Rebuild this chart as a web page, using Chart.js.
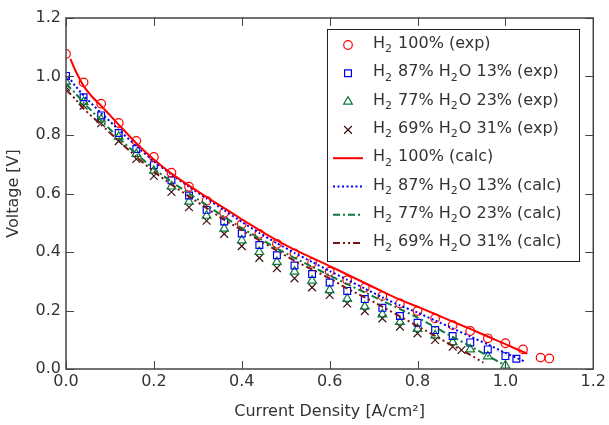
<!DOCTYPE html>
<html>
<head>
<meta charset="utf-8">
<script src="https://cdn.jsdelivr.net/npm/chart.js@4"></script>
<style>
  html, body { margin: 0; padding: 0; background: #fff; }
  #wrap { width: 609px; height: 425px; }
</style>
</head>
<body>
<div id="wrap"><canvas id="mainChart" width="609" height="425"></canvas></div>
<script>
// experimental points
const h2_100_x = [0, 0.04, 0.08, 0.12, 0.16, 0.20, 0.24, 0.28, 0.32, 0.36, 0.40, 0.44, 0.48, 0.52, 0.56, 0.60, 0.64, 0.68, 0.72, 0.76, 0.80, 0.84, 0.88, 0.92, 0.96, 1.00, 1.04, 1.08, 1.10];
const h2_100_v = [1.077, 0.980, 0.907, 0.841, 0.780, 0.725, 0.671, 0.623, 0.575, 0.534, 0.496, 0.462, 0.428, 0.395, 0.363, 0.333, 0.304, 0.278, 0.250, 0.224, 0.198, 0.173, 0.150, 0.130, 0.105, 0.088, 0.067, 0.039, 0.036];
const h2_87_x = [0, 0.04, 0.08, 0.12, 0.16, 0.20, 0.24, 0.28, 0.32, 0.36, 0.40, 0.44, 0.48, 0.52, 0.56, 0.60, 0.64, 0.68, 0.72, 0.76, 0.80, 0.84, 0.88, 0.92, 0.96, 1.00, 1.025];
const h2_87_v = [1.002, 0.929, 0.867, 0.807, 0.752, 0.697, 0.645, 0.593, 0.544, 0.504, 0.463, 0.424, 0.389, 0.354, 0.325, 0.296, 0.267, 0.239, 0.209, 0.181, 0.158, 0.133, 0.113, 0.091, 0.067, 0.044, 0.035];
const h2_77_x = [0, 0.04, 0.08, 0.12, 0.16, 0.20, 0.24, 0.28, 0.32, 0.36, 0.40, 0.44, 0.48, 0.52, 0.56, 0.60, 0.64, 0.68, 0.72, 0.76, 0.80, 0.84, 0.88, 0.92, 0.96, 1.00];
const h2_77_v = [0.982, 0.913, 0.853, 0.794, 0.735, 0.678, 0.624, 0.572, 0.524, 0.480, 0.440, 0.400, 0.366, 0.333, 0.302, 0.270, 0.240, 0.213, 0.187, 0.161, 0.137, 0.115, 0.092, 0.067, 0.043, 0.012];
const h2_69_x = [0, 0.04, 0.08, 0.12, 0.16, 0.20, 0.24, 0.28, 0.32, 0.36, 0.40, 0.44, 0.48, 0.52, 0.56, 0.60, 0.64, 0.68, 0.72, 0.76, 0.80, 0.84, 0.88, 0.90];
const h2_69_v = [0.964, 0.900, 0.840, 0.779, 0.718, 0.660, 0.605, 0.553, 0.507, 0.462, 0.420, 0.380, 0.345, 0.310, 0.279, 0.253, 0.224, 0.198, 0.173, 0.145, 0.122, 0.099, 0.076, 0.065];

// calculated curves
const calc_100_x = [0.01, 0.02, 0.04, 0.06, 0.08, 0.12, 0.16, 0.20, 0.24, 0.28, 0.32, 0.36, 0.40, 0.44, 0.48, 0.52, 0.56, 0.60, 0.64, 0.68, 0.72, 0.76, 0.80, 0.84, 0.88, 0.92, 0.96, 1.00, 1.05];
const calc_100_v = [1.060, 1.025, 0.968, 0.930, 0.900, 0.835, 0.772, 0.716, 0.668, 0.627, 0.588, 0.550, 0.512, 0.475, 0.440, 0.408, 0.380, 0.352, 0.323, 0.294, 0.265, 0.237, 0.213, 0.188, 0.162, 0.137, 0.111, 0.085, 0.052];
const calc_87_x = [0.005, 0.02, 0.04, 0.08, 0.12, 0.16, 0.20, 0.24, 0.28, 0.32, 0.36, 0.40, 0.44, 0.48, 0.52, 0.56, 0.60, 0.64, 0.68, 0.72, 0.76, 0.80, 0.84, 0.88, 0.92, 0.96, 1.00, 1.045];
const calc_87_v = [1.000, 0.970, 0.935, 0.875, 0.818, 0.762, 0.710, 0.665, 0.623, 0.583, 0.543, 0.503, 0.465, 0.430, 0.397, 0.366, 0.335, 0.305, 0.275, 0.245, 0.217, 0.193, 0.166, 0.139, 0.111, 0.084, 0.055, 0.025];
const calc_77_x = [0, 0.02, 0.04, 0.08, 0.12, 0.16, 0.20, 0.24, 0.28, 0.32, 0.36, 0.40, 0.44, 0.48, 0.52, 0.56, 0.60, 0.64, 0.68, 0.72, 0.76, 0.80, 0.84, 0.88, 0.92, 0.96, 1.00];
const calc_77_v = [0.975, 0.945, 0.910, 0.850, 0.790, 0.735, 0.685, 0.640, 0.600, 0.560, 0.520, 0.482, 0.447, 0.412, 0.380, 0.350, 0.320, 0.290, 0.262, 0.233, 0.205, 0.176, 0.143, 0.110, 0.078, 0.045, 0.012];
const calc_69_x = [0, 0.02, 0.04, 0.08, 0.12, 0.16, 0.20, 0.24, 0.28, 0.32, 0.36, 0.40, 0.44, 0.48, 0.52, 0.56, 0.60, 0.64, 0.68, 0.72, 0.76, 0.80, 0.84, 0.88, 0.92, 0.95];
const calc_69_v = [0.955, 0.925, 0.890, 0.835, 0.780, 0.725, 0.675, 0.630, 0.590, 0.550, 0.510, 0.475, 0.440, 0.405, 0.370, 0.340, 0.310, 0.275, 0.245, 0.213, 0.180, 0.147, 0.113, 0.080, 0.048, 0.022];

const xTicks = [0, 0.2, 0.4, 0.6, 0.8, 1.0, 1.2];
const yTicks = [0, 0.2, 0.4, 0.6, 0.8, 1.0, 1.2];

const labels = ['H₂ 100% (exp)', 'H₂ 87% H₂O 13% (exp)', 'H₂ 77% H₂O 23% (exp)', 'H₂ 69% H₂O 31% (exp)',
  'H₂ 100% (calc)', 'H₂ 87% H₂O 13% (calc)', 'H₂ 77% H₂O 23% (calc)', 'H₂ 69% H₂O 31% (calc)'];

const colors = {
  red: '#ff0000',
  blue: '#0000ee',
  green: '#0b7a3a',
  maroon: '#3c1212',
  maroonLine: '#7a1515'
};
const FONT = '"DejaVu Sans", sans-serif';

function pts(xs, ys) { return xs.map((x, i) => ({ x: x, y: ys[i] })); }

function expSet(label, xs, ys, style, color, r) {
  return { label: label, data: pts(xs, ys), showLine: false, pointStyle: style,
    pointRadius: r, pointBorderColor: color, pointBackgroundColor: 'rgba(0,0,0,0)',
    pointBorderWidth: 1.2, borderColor: color };
}
function calcSet(label, xs, ys, color, dash, w) {
  return { label: label, data: pts(xs, ys), showLine: true, pointRadius: 0, borderColor: color,
    borderWidth: w, borderDash: dash, fill: false, tension: 0.2 };
}

const datasets = [
  calcSet(labels[4], calc_100_x, calc_100_v, colors.red, [], 2),
  calcSet(labels[5], calc_87_x, calc_87_v, colors.blue, [2, 2.5], 2),
  calcSet(labels[6], calc_77_x, calc_77_v, colors.green, [7, 3, 2, 3], 2),
  calcSet(labels[7], calc_69_x, calc_69_v, colors.maroonLine, [7, 3, 2, 3, 2, 3], 2),
  expSet(labels[0], h2_100_x, h2_100_v, 'circle', colors.red, 4.3),
  expSet(labels[1], h2_87_x, h2_87_v, 'rect', colors.blue, 4.8),
  expSet(labels[2], h2_77_x, h2_77_v, 'triangle', colors.green, 5),
  expSet(labels[3], h2_69_x, h2_69_v, 'crossRot', colors.maroon, 5.5)
];

// draw text with ₂ as a real subscript 2
function drawSubText(ctx, text, x, y, size) {
  const parts = text.split('₂');
  let cx = x;
  parts.forEach((p, i) => {
    ctx.font = size + 'px ' + FONT;
    ctx.fillText(p, cx, y);
    cx += ctx.measureText(p).width;
    if (i < parts.length - 1) {
      ctx.font = Math.round(size * 0.7) + 'px ' + FONT;
      ctx.fillText('2', cx, y + size * 0.35);
      cx += ctx.measureText('2').width + 1;
    }
  });
}

const framePlugin = {
  id: 'frame',
  afterDatasetsDraw(chart) {
    const ctx = chart.ctx, a = chart.chartArea;
    const xs = chart.scales.x, ys = chart.scales.y;
    ctx.save();
    ctx.strokeStyle = '#444';
    ctx.lineWidth = 1.5;
    ctx.strokeRect(a.left, a.top, a.right - a.left, a.bottom - a.top);
    ctx.lineWidth = 1;
    ctx.beginPath();
    xTicks.forEach(t => {
      const px = Math.round(xs.getPixelForValue(t)) + 0.5;
      ctx.moveTo(px, a.bottom); ctx.lineTo(px, a.bottom - 8);
      ctx.moveTo(px, a.top); ctx.lineTo(px, a.top + 8);
    });
    yTicks.forEach(t => {
      const py = Math.round(ys.getPixelForValue(t)) + 0.5;
      ctx.moveTo(a.left, py); ctx.lineTo(a.left + 8, py);
      ctx.moveTo(a.right, py); ctx.lineTo(a.right - 8, py);
    });
    ctx.stroke();
    ctx.restore();
  },
  afterDraw(chart) {
    const ctx = chart.ctx;
    // legend box
    const L = 327, T = 29, R = 579, B = 261;
    ctx.save();
    ctx.fillStyle = '#fff';
    ctx.fillRect(L, T, R - L, B - T);
    ctx.strokeStyle = '#222';
    ctx.lineWidth = 1;
    ctx.strokeRect(L + 0.5, T + 0.5, R - L, B - T);
    const order = [4, 5, 6, 7, 0, 1, 2, 3];
    order.forEach((di, row) => {
      const ds = chart.data.datasets[di];
      const cy = 45 + row * 28.3;
      if (ds.showLine) {
        ctx.save();
        ctx.strokeStyle = ds.borderColor;
        ctx.lineWidth = 2;
        ctx.setLineDash(ds.borderDash);
        ctx.beginPath();
        ctx.moveTo(333, cy); ctx.lineTo(363, cy);
        ctx.stroke();
        ctx.restore();
      } else {
        ctx.save();
        ctx.strokeStyle = ds.pointBorderColor;
        ctx.fillStyle = 'rgba(0,0,0,0)';
        ctx.lineWidth = 1.2;
        Chart.helpers.drawPoint(ctx, { pointStyle: ds.pointStyle, radius: ds.pointRadius, borderWidth: 1.2, rotation: 0 }, 348, cy);
        ctx.restore();
      }
      ctx.fillStyle = '#333';
      ctx.textBaseline = 'middle';
      ctx.textAlign = 'left';
      drawSubText(ctx, ds.label, 373, cy - 1, 16);
    });
    ctx.restore();
  }
};

const ctxMain = document.getElementById('mainChart').getContext('2d');
const mainChart = new Chart(ctxMain, {
  type: 'scatter',
  data: { datasets: datasets },
  options: {
    responsive: false,
    animation: false,
    layout: { padding: { top: 18, right: 15, left: 4, bottom: 4 } },
    plugins: { legend: { display: false }, tooltip: { enabled: false } },
    scales: {
      x: {
        type: 'linear', min: 0, max: 1.2,
        afterBuildTicks: s => { s.ticks = xTicks.map(v => ({ value: v })); },
        afterFit: s => { s.height = 52; },
        grid: { display: false, drawTicks: false },
        border: { display: false },
        ticks: { color: '#333', font: { family: FONT, size: 16 }, padding: 3, maxRotation: 0,
          callback: v => v.toFixed(1) },
        title: { display: true, text: 'Current Density [A/cm²]', color: '#333',
          font: { family: FONT, size: 16 }, padding: { top: 2, bottom: 0 } }
      },
      y: {
        type: 'linear', min: 0, max: 1.2,
        afterBuildTicks: s => { s.ticks = yTicks.map(v => ({ value: v })); },
        afterFit: s => { s.width = 62; },
        grid: { display: false, drawTicks: false },
        border: { display: false },
        ticks: { color: '#333', font: { family: FONT, size: 16 }, padding: 5,
          callback: v => v.toFixed(1) },
        title: { display: true, text: 'Voltage [V]', color: '#333',
          font: { family: FONT, size: 16 }, padding: { top: 0, bottom: 2 } }
      }
    }
  },
  plugins: [framePlugin]
});
</script>
</body>
</html>
